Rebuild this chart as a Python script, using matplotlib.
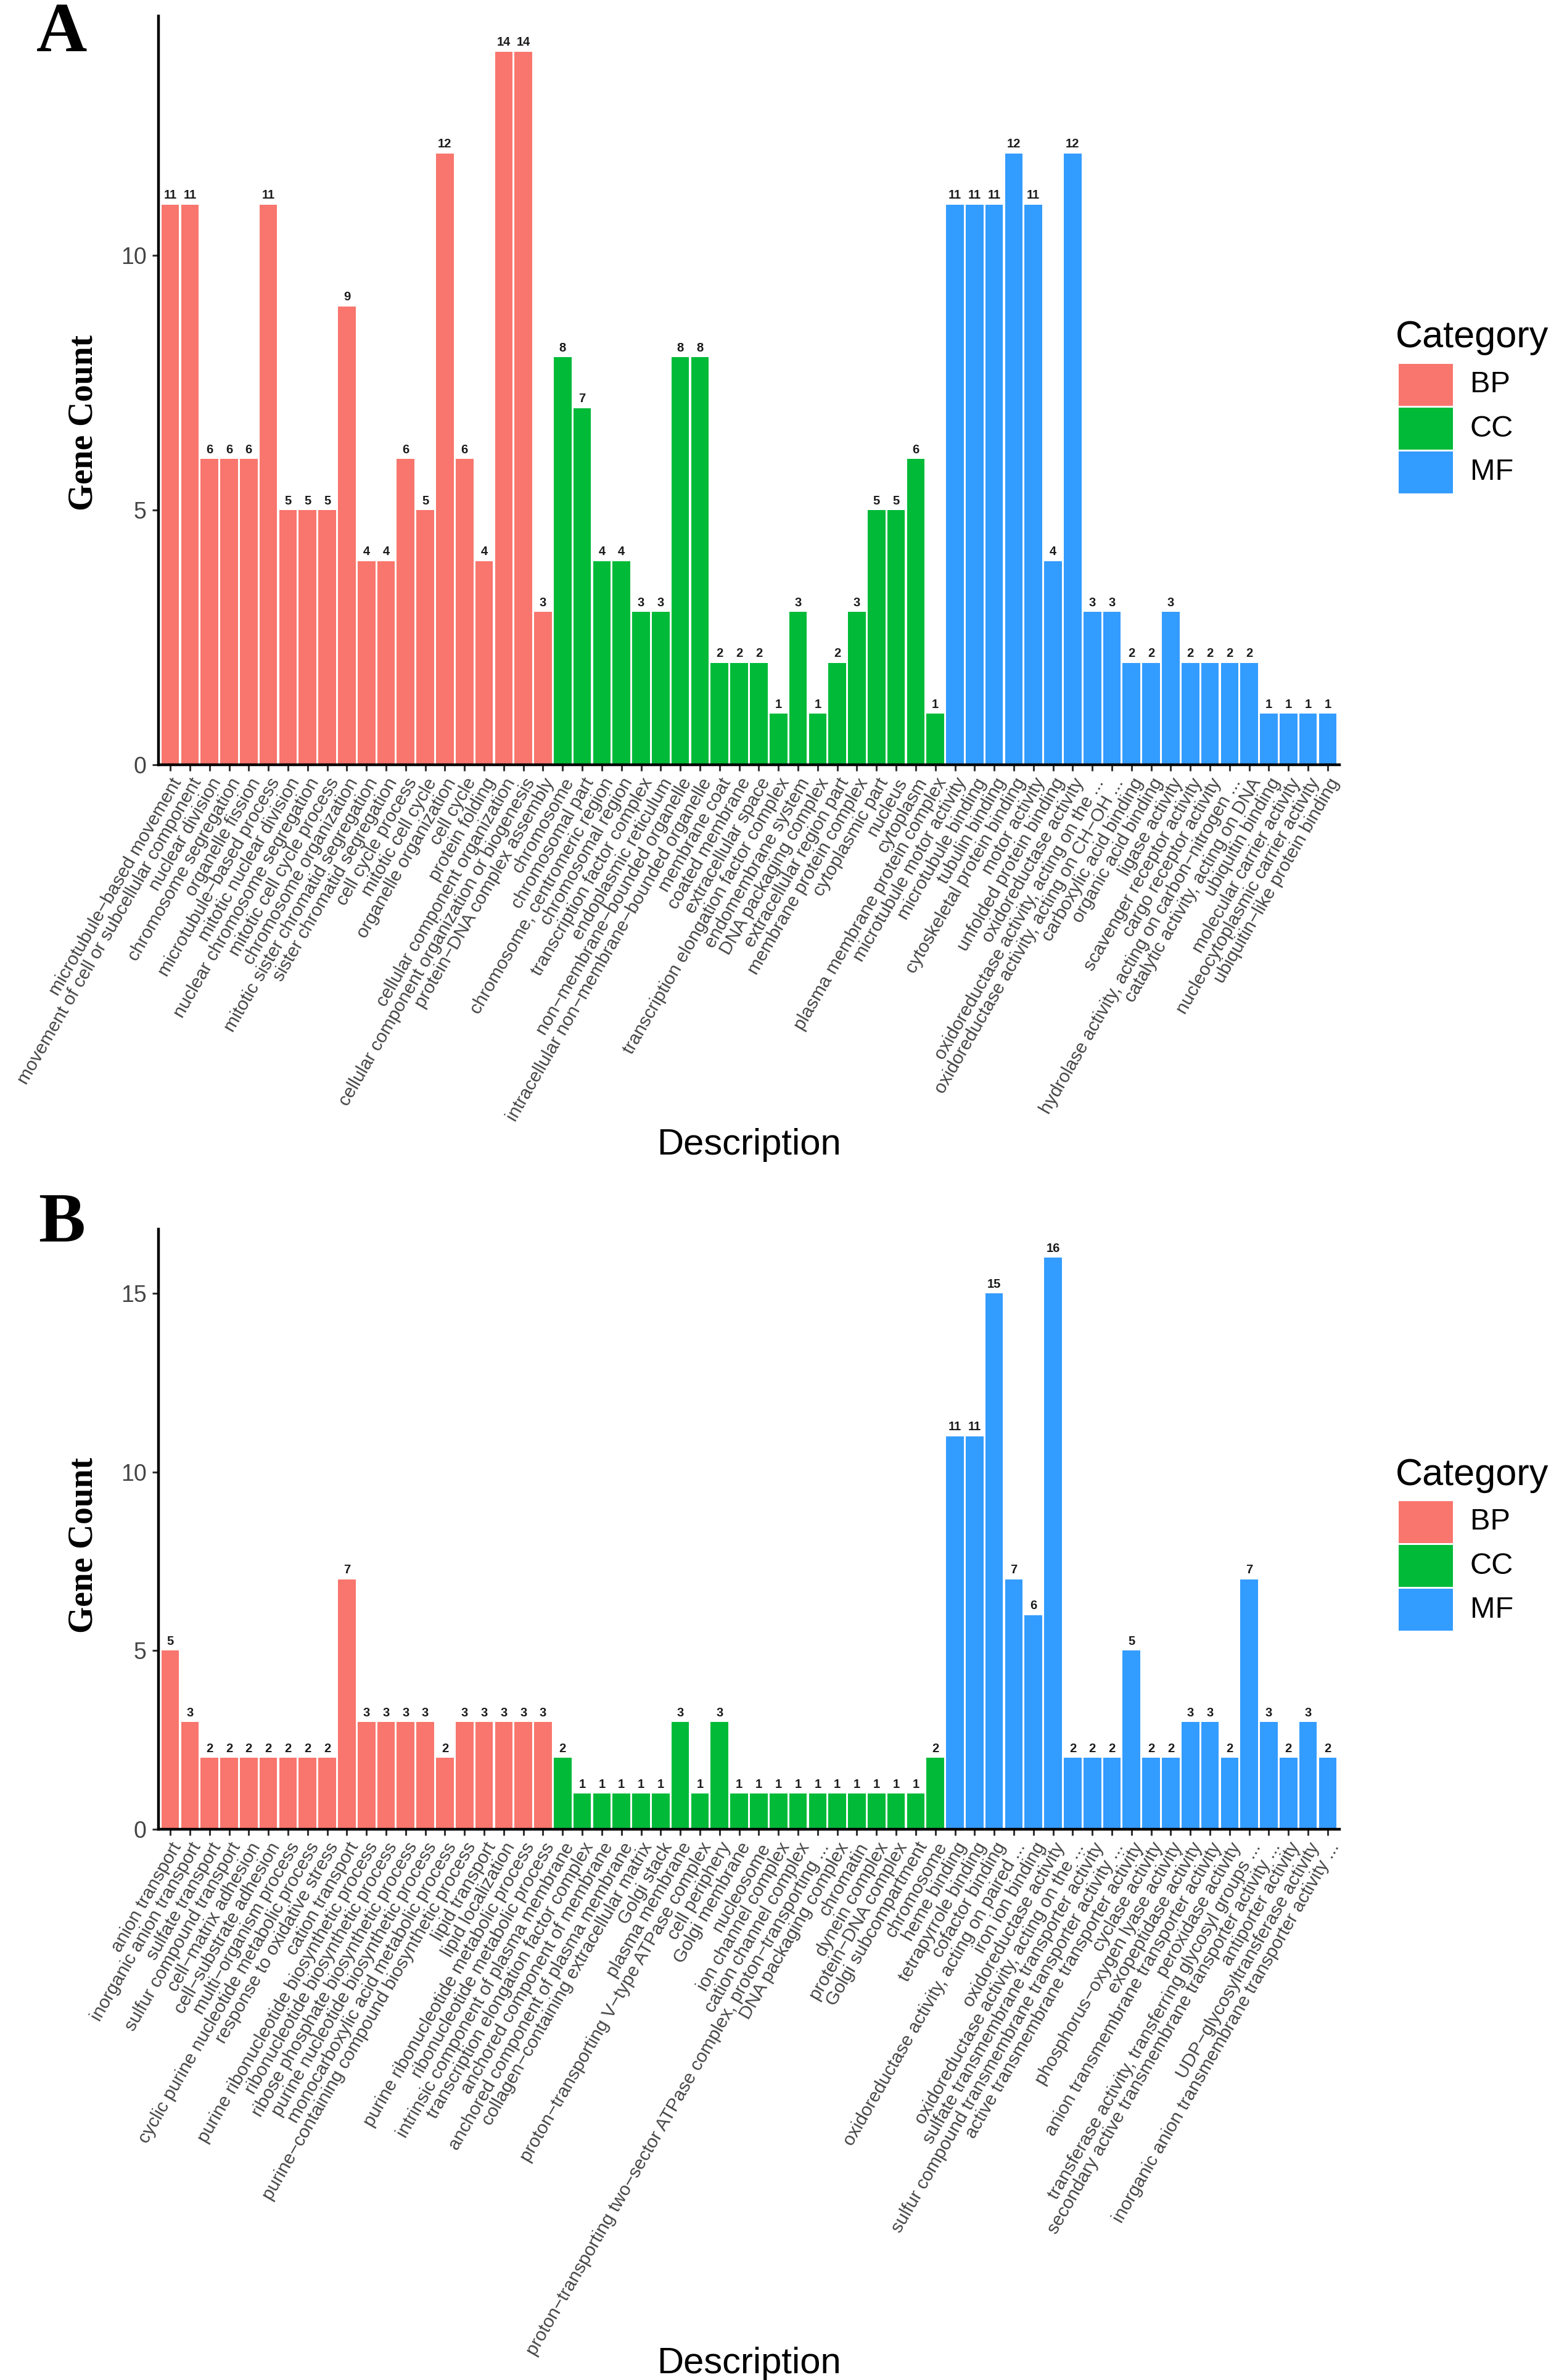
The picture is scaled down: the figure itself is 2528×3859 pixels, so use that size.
import matplotlib
matplotlib.use("Agg")
import matplotlib.pyplot as plt
from matplotlib.patches import Rectangle

W, H = 2528, 3859

cat_names = ["BP", "CC", "MF"]
cat_colors = ["#F8766D", "#00BA38", "#339CFF"]

# ---- panel A ----
a_bp_terms = [
    "microtubule−based movement",
    "movement of cell or subcellular component",
    "nuclear division",
    "chromosome segregation",
    "organelle fission",
    "microtubule−based process",
    "mitotic nuclear division",
    "nuclear chromosome segregation",
    "mitotic cell cycle process",
    "chromosome organization",
    "mitotic sister chromatid segregation",
    "sister chromatid segregation",
    "cell cycle process",
    "mitotic cell cycle",
    "organelle organization",
    "cell cycle",
    "protein folding",
    "cellular component organization",
    "cellular component organization or biogenesis",
    "protein−DNA complex assembly",
]
a_bp_counts = [11, 11, 6, 6, 6, 11, 5, 5, 5, 9, 4, 4, 6, 5, 12, 6, 4, 14, 14, 3]

a_cc_terms = [
    "chromosome",
    "chromosomal part",
    "chromosome, centromeric region",
    "chromosomal region",
    "transcription factor complex",
    "endoplasmic reticulum",
    "non−membrane−bounded organelle",
    "intracellular non−membrane−bounded organelle",
    "membrane coat",
    "coated membrane",
    "extracellular space",
    "transcription elongation factor complex",
    "endomembrane system",
    "DNA packaging complex",
    "extracellular region part",
    "membrane protein complex",
    "cytoplasmic part",
    "nucleus",
    "cytoplasm",
    "plasma membrane protein complex",
]
a_cc_counts = [8, 7, 4, 4, 3, 3, 8, 8, 2, 2, 2, 1, 3, 1, 2, 3, 5, 5, 6, 1]

a_mf_terms = [
    "microtubule motor activity",
    "microtubule binding",
    "tubulin binding",
    "cytoskeletal protein binding",
    "motor activity",
    "unfolded protein binding",
    "oxidoreductase activity",
    "oxidoreductase activity, acting on the ...",
    "oxidoreductase activity, acting on CH−OH ...",
    "carboxylic acid binding",
    "organic acid binding",
    "ligase activity",
    "scavenger receptor activity",
    "cargo receptor activity",
    "hydrolase activity, acting on carbon−nitrogen ...",
    "catalytic activity, acting on DNA",
    "ubiquitin binding",
    "molecular carrier activity",
    "nucleocytoplasmic carrier activity",
    "ubiquitin−like protein binding",
]
a_mf_counts = [11, 11, 11, 12, 11, 4, 12, 3, 3, 2, 2, 3, 2, 2, 2, 2, 1, 1, 1, 1]

# ---- panel B ----
b_bp_terms = [
    "anion transport",
    "inorganic anion transport",
    "sulfate transport",
    "sulfur compound transport",
    "cell−matrix adhesion",
    "cell−substrate adhesion",
    "multi−organism process",
    "cyclic purine nucleotide metabolic process",
    "response to oxidative stress",
    "cation transport",
    "purine ribonucleotide biosynthetic process",
    "ribonucleotide biosynthetic process",
    "ribose phosphate biosynthetic process",
    "purine nucleotide biosynthetic process",
    "monocarboxylic acid metabolic process",
    "purine−containing compound biosynthetic process",
    "lipid transport",
    "lipid localization",
    "purine ribonucleotide metabolic process",
    "ribonucleotide metabolic process",
]
b_bp_counts = [5, 3, 2, 2, 2, 2, 2, 2, 2, 7, 3, 3, 3, 3, 2, 3, 3, 3, 3, 3]

b_cc_terms = [
    "intrinsic component of plasma membrane",
    "transcription elongation factor complex",
    "anchored component of membrane",
    "anchored component of plasma membrane",
    "collagen−containing extracellular matrix",
    "Golgi stack",
    "plasma membrane",
    "proton−transporting V−type ATPase complex",
    "cell periphery",
    "Golgi membrane",
    "nucleosome",
    "ion channel complex",
    "cation channel complex",
    "proton−transporting two−sector ATPase complex, proton−transporting ...",
    "DNA packaging complex",
    "chromatin",
    "dynein complex",
    "protein−DNA complex",
    "Golgi subcompartment",
    "chromosome",
]
b_cc_counts = [2, 1, 1, 1, 1, 1, 3, 1, 3, 1, 1, 1, 1, 1, 1, 1, 1, 1, 1, 2]

b_mf_terms = [
    "heme binding",
    "tetrapyrrole binding",
    "cofactor binding",
    "oxidoreductase activity, acting on paired ...",
    "iron ion binding",
    "oxidoreductase activity",
    "oxidoreductase activity, acting on the ...",
    "sulfate transmembrane transporter activity",
    "sulfur compound transmembrane transporter activity ...",
    "active transmembrane transporter activity",
    "cyclase activity",
    "phosphorus−oxygen lyase activity",
    "exopeptidase activity",
    "anion transmembrane transporter activity",
    "peroxidase activity",
    "transferase activity, transferring glycosyl groups ...",
    "secondary active transmembrane transporter activity ...",
    "antiporter activity",
    "UDP−glycosyltransferase activity",
    "inorganic anion transmembrane transporter activity ...",
]
b_mf_counts = [11, 11, 15, 7, 6, 16, 2, 2, 2, 5, 2, 2, 3, 3, 2, 7, 3, 2, 3, 2]

a_yticks = [0, 5, 10]
b_yticks = [0, 5, 10, 15]

SANS = "Liberation Sans"
SERIF = "Liberation Serif"
GREY = "#444444"


def fx(px):
    return px / W


def fy(py):
    return 1 - py / H


def draw_panel(fig, top, bottom, groups, yticks, letter, letter_y, label_y, desc_y, leg_y):
    ax = fig.add_axes([fx(257), fy(bottom), fx(2172) - fx(257), fy(top) - fy(bottom)])

    terms, counts, colors = [], [], []
    for (t, c), col in zip(groups, cat_colors):
        terms += t
        counts += c
        colors += [col] * len(t)
    xs = list(range(len(terms)))

    ax.bar(xs, counts, width=0.9, color=colors, linewidth=0)
    for x, c in zip(xs, counts):
        ax.annotate(str(c), (x, c), xytext=(0, 4), textcoords="offset points",
                    ha="center", va="bottom", fontsize=14.5, fontweight="bold",
                    family=SANS, color="#1a1a1a")

    ymax = max(counts) * 1.05
    ax.set_xlim(-0.6, len(terms) - 0.4)
    ax.set_ylim(0, ymax)
    ax.set_xticks(xs)
    ax.set_xticklabels(terms, rotation=60, ha="right", va="top", rotation_mode="anchor",
                       fontsize=21.5, family=SANS, color=GREY)
    ax.set_yticks(yticks)
    ax.set_yticklabels([str(v) for v in yticks], fontsize=27, family=SANS, color=GREY)
    for s in ["top", "right"]:
        ax.spines[s].set_visible(False)
    for s in ["left", "bottom"]:
        ax.spines[s].set_linewidth(3.2)
        ax.spines[s].set_color("black")
    ax.tick_params(axis="both", length=7, width=2.2, color="#333333", pad=5)
    ax.tick_params(axis="y", pad=7)

    fig.text(fx(100), fy(letter_y), letter, family=SERIF, fontweight="bold",
             fontsize=82, ha="center", va="center")
    fig.text(fx(136), fy(label_y), "Gene Count", family=SERIF, fontweight="bold",
             fontsize=40, rotation=90, ha="center", va="center")
    fig.text(fx(1215), fy(desc_y), "Description", family=SANS, fontsize=43,
             ha="center", va="center")

    # legend
    fig.text(fx(2263), fy(leg_y), "Category", family=SANS, fontsize=44,
             ha="left", va="center")
    for i, (name, col) in enumerate(zip(cat_names, cat_colors)):
        cy = leg_y + 76 + i * 71
        fig.add_artist(Rectangle((fx(2268), fy(cy + 34)), fx(88), fy(0) - fy(68),
                                 transform=fig.transFigure, color=col, linewidth=0))
        fig.text(fx(2384), fy(cy), name, family=SANS, fontsize=35, ha="left", va="center")
    return ax


fig = plt.figure(figsize=(W / 100, H / 100), dpi=100)

draw_panel(fig, 26, 1240,
           [(a_bp_terms, a_bp_counts), (a_cc_terms, a_cc_counts), (a_mf_terms, a_mf_counts)],
           a_yticks, "A", 55, 685, 1857, 548)
draw_panel(fig, 1993, 2966,
           [(b_bp_terms, b_bp_counts), (b_cc_terms, b_cc_counts), (b_mf_terms, b_mf_counts)],
           b_yticks, "B", 1985, 2505, 3832, 2392)

fig.savefig("out.png", dpi=100, facecolor="white")
